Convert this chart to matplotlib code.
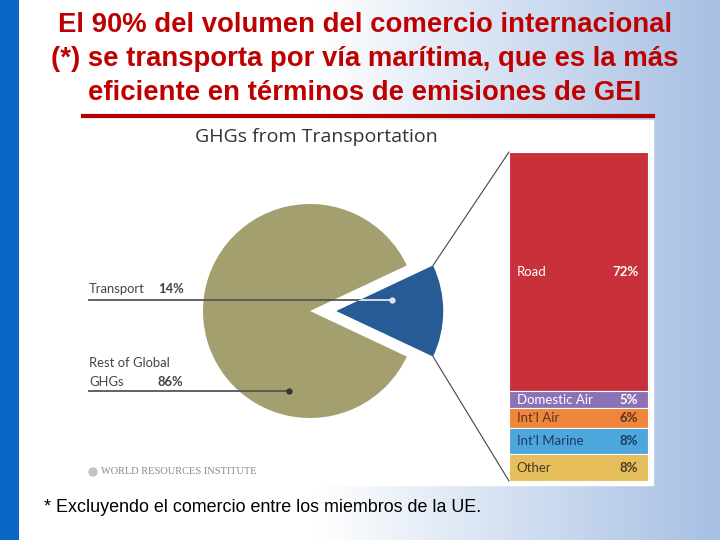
import numpy as np
import matplotlib
matplotlib.use('Agg')
import matplotlib.pyplot as plt
from matplotlib.patches import Rectangle, ConnectionPatch, Circle

W, H = 720, 540

title_lines = ['El 90% del volumen del comercio internacional',
               '(*) se transporta por vía marítima, que es la más',
               'eficiente en términos de emisiones de GEI']
chart_title = 'GHGs from Transportation'
footnote = '* Excluyendo el comercio entre los miembros de la UE.'
source = 'WORLD RESOURCES INSTITUTE'

# pie: share of global GHGs
pie_labels = ['Transport', 'Rest of Global\nGHGs']
pie_values = [14, 86]
pie_colors = ['#265b96', '#a49f6e']

# bar: breakdown of transport GHGs
bar_labels = ['Road', 'Domestic Air', "Int'l Air", "Int'l Marine", 'Other']
bar_values = [72, 5, 6, 8, 8]
bar_colors = ['#c8303a', '#8b72b6', '#f0853c', '#4da6dc', '#e6be5c']
bar_txt_colors = ['white', 'white', '#5a3420', '#1f3a66', '#4a3c22']

fig = plt.figure(figsize=(7.2, 5.4), dpi=100)

# slide background (pixel coordinates)
bg = fig.add_axes([0, 0, 1, 1])
X, Y = np.meshgrid(np.linspace(0, 1, W), np.linspace(0, 1, H))
t = np.clip((X - 0.44) / 0.56, 0, 1)
white = np.array([1.0, 1.0, 1.0])
blue = np.array([0.65, 0.75, 0.89])
img = white + (blue - white) * t[..., None]
img[:, :19] = [0.04, 0.40, 0.78]
bg.imshow(img, extent=[0, W, H, 0], aspect='auto')
bg.set_xlim(0, W)
bg.set_ylim(H, 0)
bg.axis('off')

bg.add_patch(Rectangle((83, 120), 570, 365, color='white', zorder=2))
bg.plot([83, 653], [116, 116], color='#b30000', lw=3, zorder=3)

for i, line in enumerate(title_lines):
    bg.text(365, 25 + 34 * i, line, ha='center', va='center', fontsize=19.8,
            color='#bf0000', fontweight='bold', family='Liberation Sans', zorder=3)

bg.text(195, 137, chart_title, va='center', fontsize=14, color='#333333',
        family='Open Sans', zorder=3)
bg.add_patch(Circle((93, 472), 4, color='#c4c4c4', zorder=3))
bg.text(101, 472, source, va='center', fontsize=7.5, color='#888888',
        family='Liberation Serif', zorder=3)
bg.text(44, 507, footnote, va='center', fontsize=12.9, color='black',
        family='Liberation Sans', zorder=3)

# pie
ax = fig.add_axes([203 / W, 1 - 418 / H, 214 / W, 214 / H])
wedges, _ = ax.pie(pie_values, colors=pie_colors, startangle=-25.2,
                   explode=[0.245, 0], wedgeprops=dict(linewidth=0))
ax.set_xlim(-1, 1)
ax.set_ylim(-1, 1)
ax.axis('off')
for w in wedges:
    w.set_clip_on(False)

# label leaders
line_x0 = -2.07
w0 = wedges[0]
anchors = [(w0.center[0] + 0.53 * np.cos(np.radians(11)),
            w0.center[1] + 0.53 * np.sin(np.radians(11))),
           (0.773 * np.cos(np.radians(255.3)), 0.773 * np.sin(np.radians(255.3)))]
for k, (axp, ayp) in enumerate(anchors):
    ax.plot([line_x0, axp], [ayp, ayp], color='#555555', lw=1.3, clip_on=False)
    dot_c = '#333333'
    if k == 0:
        ov, = ax.plot([line_x0, axp], [ayp, ayp], color='#dfe8f2', lw=1.3)
        ov.set_clip_path(w0)
        dot_c = '#dfe8f2'
    ax.plot(axp, ayp, 'o', color=dot_c, ms=3.5, clip_on=False)

lab_font = dict(family='Lato', fontsize=9.4, color='#444444')
bg.text(89, 289, pie_labels[0], va='center', zorder=3, **lab_font)
bg.text(158, 289, f'{pie_values[0]}%', va='center', zorder=3, fontweight='bold', **lab_font)
name1, name2 = pie_labels[1].split('\n')
bg.text(89, 363, name1, va='center', zorder=3, **lab_font)
bg.text(89, 382, name2, va='center', zorder=3, **lab_font)
bg.text(158, 382, f'{pie_values[1]}%', va='center', zorder=3, fontweight='bold', **lab_font)

# stacked bar
bx = fig.add_axes([509 / W, 1 - 481 / H, 139 / W, 329 / H])
bottoms = np.cumsum([0] + bar_values[:-1])
bx.bar([0] * len(bar_values), bar_values, bottom=bottoms, width=1,
       color=bar_colors, edgecolor='white', linewidth=0.8)
total = sum(bar_values)
bx.set_xlim(-0.5, 0.5)
bx.set_ylim(total, 0)
bx.axis('off')
for lab, v, b, tc in zip(bar_labels, bar_values, bottoms, bar_txt_colors):
    yy = b + v / 2 if v < 20 else b + v * 0.5
    bx.text(-0.445, yy, lab, ha='left', va='center', color=tc,
            family='Lato', fontsize=9.5)
    bx.text(0.43, yy, f'{v}%', ha='right', va='center', color=tc,
            family='Lato', fontsize=9.5, fontweight='bold')

# connectors from exploded slice to bar
cx, cy = w0.center
for th, yb in [(w0.theta2, 0), (w0.theta1, total)]:
    con = ConnectionPatch(xyA=(cx + np.cos(np.radians(th)), cy + np.sin(np.radians(th))),
                          coordsA=ax.transData, xyB=(-0.5, yb), coordsB=bx.transData,
                          color='#444444', lw=0.8)
    fig.add_artist(con)

fig.savefig('out.png', dpi=100)
